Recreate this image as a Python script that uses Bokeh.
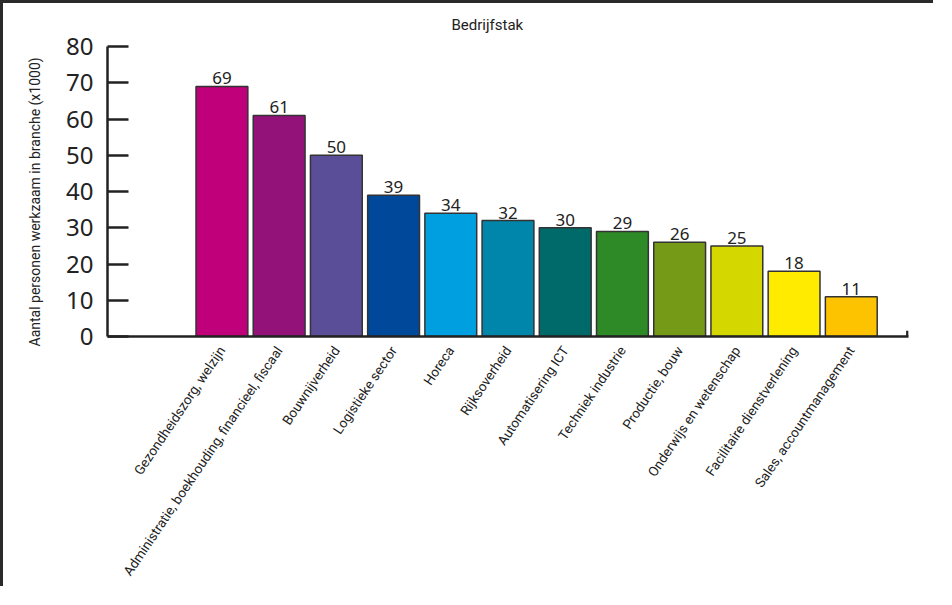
import math
from bokeh.plotting import figure
from bokeh.models import ColumnDataSource, FixedTicker, Range1d, Title
from bokeh.core.properties import value
from bokeh.embed import file_html
from bokeh.resources import INLINE

categories = [
    "Gezondheidszorg, welzijn",
    "Administratie, boekhouding, financieel, fiscaal",
    "Bouwnijverheid",
    "Logistieke sector",
    "Horeca",
    "Rijksoverheid",
    "Automatisering ICT",
    "Techniek industrie",
    "Productie, bouw",
    "Onderwijs en wetenschap",
    "Facilitaire dienstverlening",
    "Sales, accountmanagement",
]
values = [69, 61, 50, 39, 34, 32, 30, 29, 26, 25, 18, 11]
colors = ["#C0007A", "#92127A", "#5B4E98", "#00489A", "#009FE0", "#0086AA",
          "#006A6A", "#2E8A26", "#759A18", "#D4D700", "#FFEB00", "#FDC300"]
y_ticks = [0, 10, 20, 30, 40, 50, 60, 70, 80]
y_title = "Aantal personen werkzaam in branche (x1000)"

COND = "Roboto"
REG = "Noto Sans"

xs = [i + 2 for i in range(len(categories))]
x_end = len(categories) + 2

src = ColumnDataSource(dict(x=xs, top=values, color=colors,
                            label=[str(v) for v in values]))

p = figure(width=933, height=586, output_backend="svg", toolbar_location=None,
           x_range=Range1d(0, x_end), y_range=Range1d(0, 80),
           min_border_left=104, min_border_right=28, min_border_top=43,
           min_border_bottom=253)
p.title = Title(text="Bedrijfstak", align="left", vertical_align="top",
                text_font=COND, text_font_size="15px", text_font_style="normal",
                text_color="#222222", offset=344, standoff=21)

p.vbar(x="x", top="top", width=0.906, bottom=0, source=src, fill_color="color",
       line_color="#333333", line_width=1.5)
p.text(x="x", y="top", text="label", source=src, text_align="center",
       text_baseline="bottom", y_offset=-2, text_font=value(REG),
       text_font_size="17px", text_color="#222222")
p.segment(x0=[x_end - 0.02], x1=[x_end - 0.02], y0=[0], y1=[1.6],
          line_color="#222222", line_width=2.5)

p.grid.visible = False
p.outline_line_color = None
p.background_fill_color = "white"
p.border_fill_color = "white"

xa = p.xaxis[0]
xa.ticker = FixedTicker(ticks=xs)
xa.major_label_overrides = {x: c for x, c in zip(xs, categories)}
xa.major_label_orientation = math.radians(56)
xa.major_tick_line_color = None
xa.minor_tick_line_color = None
xa.axis_line_color = "#222222"
xa.axis_line_width = 2.5
xa.major_label_text_font = COND
xa.major_label_text_font_size = "13.5px"
xa.major_label_text_color = "#222222"
xa.major_label_standoff = 5

ya = p.yaxis[0]
ya.ticker = FixedTicker(ticks=y_ticks)
ya.major_tick_in = 21
ya.major_tick_out = 0
ya.major_tick_line_width = 2.5
ya.major_tick_line_color = "#222222"
ya.minor_tick_line_color = None
ya.axis_line_color = "#222222"
ya.axis_line_width = 2.5
ya.major_label_text_font = REG
ya.major_label_text_font_size = "24px"
ya.major_label_text_color = "#222222"
ya.major_label_standoff = 14

p.add_layout(Title(text=y_title, align="left", offset=-10, standoff=42,
                   text_font=COND, text_font_size="14px",
                   text_font_style="normal", text_color="#222222"), "left")

p.styles = {"border-top": "3px solid #2a2a2a", "border-left": "3px solid #2a2a2a"}

open("out.html", "w").write(file_html(p, INLINE))
